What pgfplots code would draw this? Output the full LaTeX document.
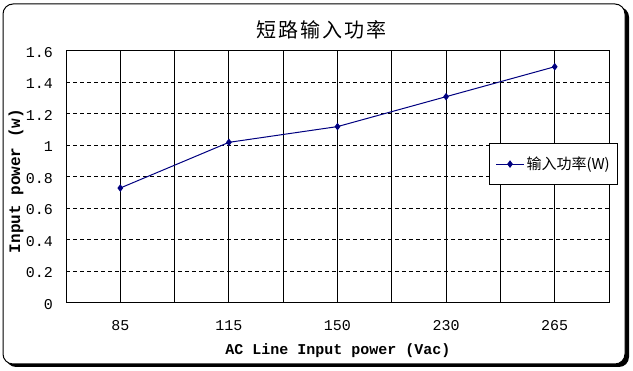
\documentclass[border=0pt]{standalone}
\usepackage{fontspec}
\usepackage{pgfplots}
\pgfplotsset{compat=1.18}
\newfontfamily\cjk{Noto Sans CJK SC}
\newfontfamily\cjktitle[LetterSpace=10]{Noto Sans CJK SC}
\newfontfamily\mono{Liberation Mono}
\definecolor{navyline}{RGB}{0,0,128}
\begin{document}
\begin{tikzpicture}
\useasboundingbox (0,0) rectangle (633pt,371pt);
% outer frame with shadow
\fill[black, rounded corners=10pt] (6pt,4pt) rectangle (629pt,364pt);
\draw[black, fill=white, line width=1pt, rounded corners=10pt] (3pt,7pt) rectangle (625pt,367pt);
\begin{axis}[
  at={(66pt,68pt)}, anchor=south west,
  scale only axis, width=543pt, height=252pt,
  xmin=-0.5, xmax=4.5, ymin=0, ymax=1.6,
  xtick={0,1,2,3,4},
  xticklabels={85,115,150,230,265},
  minor xtick={-0.5,0.5,1.5,2.5,3.5,4.5},
  ytick={0,0.2,0.4,0.6,0.8,1,1.2,1.4,1.6},
  xmajorgrids, xminorgrids, ymajorgrids,
  major x grid style={black, solid, line width=1pt},
  minor x grid style={black, solid, line width=1pt},
  major y grid style={black, dash pattern=on 4pt off 3pt, line width=1pt},
  major tick length=0pt, minor tick length=0pt,
  axis line style={black, line width=1pt},
  /pgf/number format/assume math mode=true,
  tick label style={font=\mono\fontsize{15}{15}\selectfont, inner sep=0pt},
  xticklabel style={anchor=base, yshift=-28pt},
  yticklabel style={anchor=base east, xshift=-13pt, yshift=-6.5pt},
  legend style={at={(rel axis cs:0.779,0.633)}, anchor=north west,
    draw=black, line width=1pt, inner xsep=6pt, inner ysep=11pt,
    font=\cjk\fontsize{15}{15}\selectfont},
  legend cell align=left,
  legend image code/.code={\draw[mark repeat=2, mark phase=2] plot coordinates {(0pt,0pt) (14pt,0pt) (28pt,0pt)};},
]
\addplot[color=navyline, line width=1pt, mark=diamond*, mark size=3pt, mark options={solid, fill=navyline}]
  coordinates {(0,0.73) (1,1.02) (2,1.12) (3,1.31) (4,1.50)};
\addlegendentry{输入功率(W)}
\end{axis}
\node at (321pt,341pt) {\cjktitle\fontsize{20}{20}\selectfont 短路输入功率};
\node[anchor=base] at (338pt,16pt) {\mono\bfseries\fontsize{15}{15}\selectfont AC Line Input power (Vac)};
\node[rotate=90, anchor=center] at (16pt,190pt) {\mono\bfseries\fontsize{16}{16}\selectfont Input power (w)};
\end{tikzpicture}
\end{document}
